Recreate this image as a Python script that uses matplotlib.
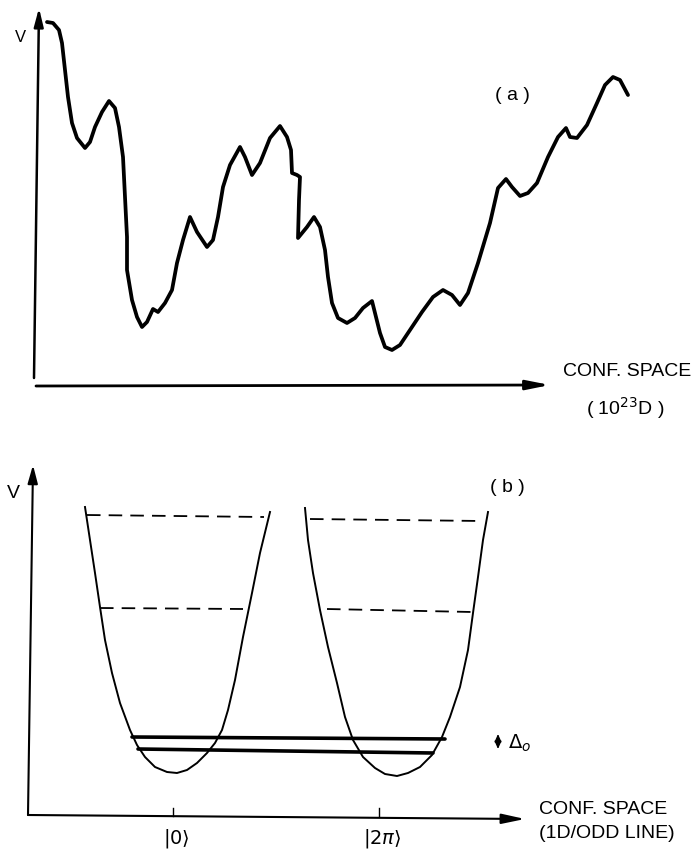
import matplotlib.pyplot as plt

plt.rcParams["font.family"] = ["Liberation Sans", "DejaVu Sans"]

# Panel (a): rough potential landscape, x = conf. space, V = height above axis
a_x = [11, 17, 23, 26, 29, 32, 36, 41, 49, 54, 59, 66, 73, 79, 83, 87, 89, 91,
       91, 96, 101, 106, 111, 117, 122, 129, 136, 141, 147, 154, 161, 171, 177,
       182, 187, 194, 204, 209, 216, 224, 234, 244, 251, 255, 256, 261, 264, 263,
       262, 271, 278, 284, 289, 292, 296, 302, 311, 319, 327, 336, 339, 344, 349,
       356, 364, 374, 386, 397, 407, 416, 424, 432, 442, 454, 462, 470, 476, 484,
       492, 501, 512, 522, 530, 534, 541, 551, 561, 569, 577, 584, 592]
a_v = [364, 363, 356, 343, 316, 289, 263, 248, 238, 244, 259, 274, 285, 278, 259,
       229, 189, 149, 116, 86, 69, 59, 64, 77, 74, 83, 96, 123, 146, 169, 154,
       139, 146, 169, 199, 221, 239, 229, 211, 223, 248, 260, 249, 236, 213, 211,
       209, 186, 148, 159, 169, 159, 136, 109, 83, 68, 63, 68, 78, 85, 73, 53,
       39, 36, 41, 56, 74, 89, 96, 91, 81, 93, 123, 163, 198, 207, 199, 190, 193,
       203, 229, 249, 258, 249, 248, 261, 283, 301, 309, 306, 291]

# Panel (b): two wells at |0> and |2pi>
left_x = [57, 62, 67, 72, 77, 84, 92, 102, 109, 117, 127, 139, 149, 159, 169,
          179, 187, 194, 200, 207, 215, 224, 232, 242]
left_v = [309, 276, 243, 209, 176, 143, 113, 86, 71, 59, 49, 44, 43, 46, 53, 63,
          73, 86, 106, 136, 179, 223, 263, 304]
right_x = [277, 280, 285, 292, 300, 309, 317, 325, 335, 347, 357, 369, 380, 392,
           404, 414, 422, 432, 440, 445, 450, 455, 460]
right_v = [308, 276, 243, 206, 169, 133, 99, 76, 59, 48, 42, 40, 43, 49, 61, 79,
           99, 129, 166, 203, 239, 276, 304]

# excited levels (dashed): (x_start, x_end, v_start, v_end)
dashed_levels = [
    (59, 236, 301, 299),
    (72, 215, 208, 207),
    (282, 454, 297, 295),
    (299, 444, 207, 204),
]
# tunnel-split ground levels (thick)
split_levels = [
    (104, 417, 79, 77),
    (110, 405, 67, 63),
]
tick_x = [145, 351]
tick_labels = [r"$|0\rangle$", r"$|2\pi\rangle$"]

W, H = 698, 851
fig = plt.figure(figsize=(W / 100, H / 100), dpi=100)
fig.patch.set_facecolor("white")

arrow = dict(color="black", shrinkA=0, shrinkB=0, mutation_scale=10)

# ---- panel (a)
ax1 = fig.add_axes([0, 431 / H, 1, 420 / H])
ax1.set_xlim(-36, 662)
ax1.set_ylim(-34, 386)
ax1.set_axis_off()

ax1.annotate("", xy=(3, 378), xytext=(-2, 8),
             arrowprops=dict(arrowstyle="-|>,head_length=1.1,head_width=0.28",
                             lw=1.8, **arrow))
ax1.annotate("", xy=(514, 1), xytext=(0, 0),
             arrowprops=dict(arrowstyle="-|>,head_length=1.4,head_width=0.28",
                             lw=2.0, **arrow))
ax1.plot(a_x, a_v, color="black", lw=2.7, solid_joinstyle="round",
         solid_capstyle="round")

ax1.text(-16, 349, "V", fontsize=12, ha="center", va="center")
ax1.text(476, 291, "( a )", fontsize=14, ha="center", va="center")
ax1.text(591, 14, "CONF. SPACE", fontsize=14, ha="center", va="center")
ax1.text(589, -22, "( 10$^{23}$D )", fontsize=14, ha="center", va="center")

# ---- panel (b)
ax2 = fig.add_axes([0, 0, 1, 431 / H])
ax2.set_xlim(-28, 670)
ax2.set_ylim(-35, 396)
ax2.set_axis_off()

ax2.annotate("", xy=(5, 351), xytext=(0, 1),
             arrowprops=dict(arrowstyle="-|>,head_length=1.1,head_width=0.3",
                             lw=1.5, **arrow))
ax2.annotate("", xy=(497, -3), xytext=(0, 1),
             arrowprops=dict(arrowstyle="-|>,head_length=1.4,head_width=0.3",
                             lw=1.5, **arrow))

ax2.plot(left_x, left_v, color="black", lw=1.4, solid_joinstyle="round")
ax2.plot(right_x, right_v, color="black", lw=1.4, solid_joinstyle="round")

for x0, x1, v0, v1 in dashed_levels:
    ax2.plot([x0, x1], [v0, v1], color="black", lw=1.3, dashes=(7.5, 4.5))
for x0, x1, v0, v1 in split_levels:
    ax2.plot([x0, x1], [v0, v1], color="black", lw=2.6, solid_capstyle="round")

for tx, lab in zip(tick_x, tick_labels):
    ax2.plot([tx, tx], [0, 8], color="black", lw=1.0)
    ax2.text(tx + 3, -22, lab, fontsize=14, ha="center", va="center")

ax2.annotate("", xy=(470, 82), xytext=(470, 67),
             arrowprops=dict(arrowstyle="<|-|>,head_length=0.45,head_width=0.2",
                             lw=1.0, **arrow))
ax2.text(480, 73, r"$\Delta_o$", fontsize=14, ha="left", va="center")

ax2.text(-15, 323, "V", fontsize=14, ha="center", va="center")
ax2.text(479, 329, "( b )", fontsize=14, ha="center", va="center")
ax2.text(575, 6, "CONF. SPACE", fontsize=14, ha="center", va="center")
ax2.text(579, -17, "(1D/ODD LINE)", fontsize=14, ha="center", va="center")

fig.savefig("out.png", dpi=100, facecolor="white")
